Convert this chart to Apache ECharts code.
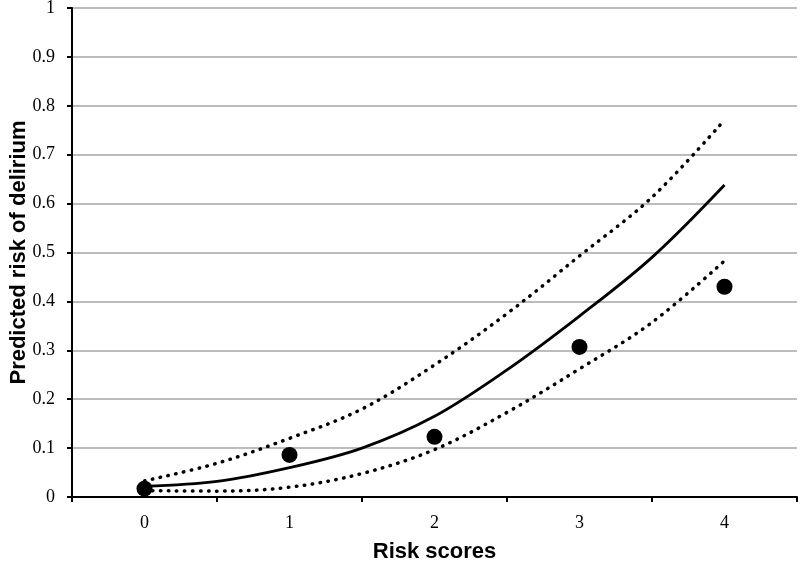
<!DOCTYPE html>
<html>
<head>
<meta charset="utf-8">
<script src="https://cdn.jsdelivr.net/npm/echarts@6/dist/echarts.min.js"></script>
<style>
  html, body { margin: 0; padding: 0; background: #fff; }
  #main { width: 800px; height: 568px; }
</style>
</head>
<body>
<div id="main"></div>
<script>
// risk score categories
var scores = ['0', '1', '2', '3', '4'];
// observed risk (dots)
var observed = [0.017, 0.086, 0.123, 0.307, 0.43];
// predicted curve and its bounds, [score, risk]
var predicted = [[0, 0.022], [0.5, 0.032], [1, 0.06], [1.5, 0.1], [2, 0.165], [2.5, 0.26], [3, 0.37], [3.5, 0.49], [4, 0.638]];
var upperBound = [[0, 0.033], [0.5, 0.069], [1, 0.12], [1.5, 0.18], [2, 0.27], [2.5, 0.375], [3, 0.493], [3.5, 0.613], [4, 0.771]];
var lowerBound = [[0, 0.013], [0.5, 0.012], [1, 0.02], [1.5, 0.048], [2, 0.097], [2.5, 0.173], [3, 0.262], [3.5, 0.357], [4, 0.483]];

var chart = echarts.init(document.getElementById('main'));

var dotted = {
  color: '#000',
  width: 3.5,
  type: [0.5, 7.5],
  cap: 'round'
};

var option = {
  animation: false,
  grid: { left: 72, right: 3, top: 8, bottom: 71, containLabel: false, outerBoundsMode: 'none' },
  xAxis: [
    {
      type: 'category',
      data: scores,
      boundaryGap: true,
      name: 'Risk scores',
      nameLocation: 'middle',
      nameGap: 44,
      nameMoveOverlap: false,
      nameTextStyle: { fontFamily: 'Liberation Sans', fontWeight: 'bold', fontSize: 22, color: '#000' },
      axisLine: { lineStyle: { color: '#000', width: 2 } },
      axisTick: { show: true, length: 5, lineStyle: { color: '#000', width: 2 } },
      axisLabel: { fontFamily: 'Liberation Serif', fontSize: 18, color: '#000', margin: 17 },
      splitLine: { show: false }
    },
    {
      type: 'value',
      min: -0.5,
      max: 4.5,
      show: false
    }
  ],
  yAxis: {
    type: 'value',
    min: 0,
    max: 1,
    interval: 0.1,
    name: 'Predicted risk of delirium',
    nameLocation: 'middle',
    nameGap: 42,
    nameMoveOverlap: false,
    nameTextStyle: { fontFamily: 'Liberation Sans', fontWeight: 'bold', fontSize: 22, color: '#000' },
    axisLine: { show: true, onZero: false, lineStyle: { color: '#000', width: 2 } },
    axisTick: { show: true, length: 5, lineStyle: { color: '#000', width: 2 } },
    axisLabel: {
      fontFamily: 'Liberation Serif', fontSize: 18, color: '#000', margin: 17,
      formatter: function (v) { return String(Math.round(v * 10) / 10); }
    },
    splitLine: { show: true, lineStyle: { color: '#a6a6a6', width: 1.5 } }
  },
  series: [
    {
      type: 'line',
      xAxisIndex: 1,
      data: upperBound,
      smooth: 0.35,
      showSymbol: false,
      lineStyle: dotted
    },
    {
      type: 'line',
      xAxisIndex: 1,
      data: lowerBound,
      smooth: 0.35,
      showSymbol: false,
      lineStyle: dotted
    },
    {
      type: 'line',
      xAxisIndex: 1,
      data: predicted,
      smooth: 0.35,
      showSymbol: false,
      lineStyle: { color: '#000', width: 2.8 }
    },
    {
      type: 'scatter',
      xAxisIndex: 0,
      data: observed,
      symbolSize: 16,
      itemStyle: { color: '#000', opacity: 1 }
    }
  ]
};

chart.setOption(option);
</script>
</body>
</html>
